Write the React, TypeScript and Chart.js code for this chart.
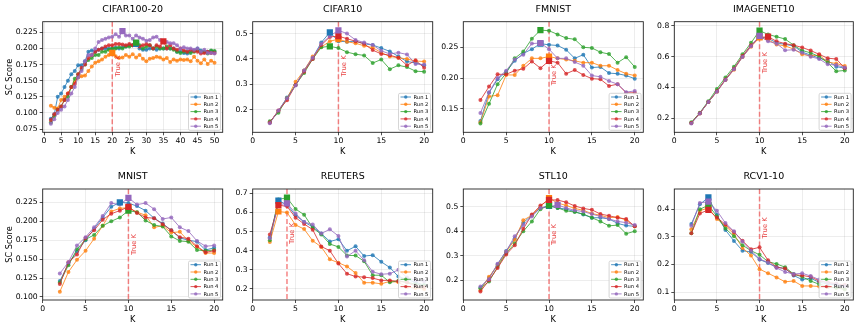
import React, { useEffect, useRef } from 'react';
import { Chart, registerables } from 'chart.js';

Chart.register(...registerables);

const W = 859;
const H = 330;

// ---------------- data ----------------
const RUN_LABELS = ['Run 1', 'Run 2', 'Run 3', 'Run 4', 'Run 5'];
const RUN_COLORS = ['#1f77b4', '#ff7f0e', '#2ca02c', '#d62728', '#9467bd'];

const kShort = [2, 3, 4, 5, 6, 7, 8, 9, 10, 11, 12, 13, 14, 15, 16, 17, 18, 19, 20];
const kLong = [2, 3, 4, 5, 6, 7, 8, 9, 10, 11, 12, 13, 14, 15, 16, 17, 18, 19, 20, 21, 22, 23, 24, 25, 26,
  27, 28, 29, 30, 31, 32, 33, 34, 35, 36, 37, 38, 39, 40, 41, 42, 43, 44, 45, 46, 47, 48, 49, 50];

const cifar100Runs = [
  [0.091, 0.098, 0.125, 0.130, 0.140, 0.150, 0.160, 0.165, 0.174, 0.174, 0.180, 0.195, 0.197, 0.195, 0.198, 0.200, 0.200, 0.200, 0.200, 0.201, 0.200, 0.202, 0.203, 0.205, 0.205, 0.207, 0.200, 0.198, 0.198, 0.200, 0.200, 0.198, 0.200, 0.200, 0.200, 0.200, 0.200, 0.195, 0.195, 0.193, 0.192, 0.195, 0.197, 0.200, 0.197, 0.195, 0.195, 0.196, 0.195],
  [0.111, 0.108, 0.107, 0.120, 0.125, 0.130, 0.140, 0.148, 0.155, 0.157, 0.158, 0.165, 0.172, 0.178, 0.180, 0.183, 0.187, 0.190, 0.193, 0.188, 0.185, 0.186, 0.190, 0.187, 0.191, 0.186, 0.190, 0.184, 0.180, 0.184, 0.185, 0.187, 0.186, 0.183, 0.185, 0.179, 0.183, 0.181, 0.183, 0.182, 0.183, 0.180, 0.187, 0.181, 0.177, 0.183, 0.176, 0.181, 0.178],
  [0.085, 0.095, 0.105, 0.110, 0.120, 0.125, 0.140, 0.153, 0.160, 0.168, 0.175, 0.182, 0.185, 0.190, 0.190, 0.195, 0.195, 0.198, 0.200, 0.200, 0.202, 0.200, 0.203, 0.203, 0.205, 0.209, 0.205, 0.200, 0.203, 0.205, 0.200, 0.203, 0.200, 0.200, 0.203, 0.200, 0.198, 0.195, 0.193, 0.195, 0.195, 0.193, 0.195, 0.197, 0.195, 0.195, 0.192, 0.197, 0.196],
  [0.089, 0.098, 0.105, 0.110, 0.120, 0.130, 0.140, 0.145, 0.160, 0.170, 0.175, 0.185, 0.190, 0.195, 0.198, 0.200, 0.203, 0.205, 0.205, 0.207, 0.207, 0.206, 0.205, 0.207, 0.205, 0.205, 0.203, 0.205, 0.207, 0.205, 0.200, 0.205, 0.203, 0.211, 0.200, 0.205, 0.200, 0.198, 0.200, 0.197, 0.195, 0.198, 0.196, 0.195, 0.192, 0.193, 0.195, 0.193, 0.193],
  [0.083, 0.090, 0.100, 0.105, 0.110, 0.120, 0.130, 0.140, 0.155, 0.165, 0.180, 0.190, 0.190, 0.200, 0.210, 0.213, 0.215, 0.217, 0.218, 0.222, 0.218, 0.227, 0.220, 0.220, 0.215, 0.220, 0.217, 0.215, 0.212, 0.213, 0.217, 0.218, 0.213, 0.210, 0.210, 0.208, 0.208, 0.205, 0.200, 0.202, 0.200, 0.200, 0.198, 0.200, 0.195, 0.198, 0.193, 0.193, 0.192],
];

const cifar10Runs = [
  [0.150, 0.195, 0.248, 0.297, 0.355, 0.405, 0.465, 0.505, 0.470, 0.468, 0.470, 0.460, 0.455, 0.443, 0.430, 0.410, 0.390, 0.385, 0.375],
  [0.150, 0.195, 0.245, 0.310, 0.355, 0.410, 0.447, 0.470, 0.478, 0.468, 0.462, 0.452, 0.445, 0.425, 0.410, 0.405, 0.400, 0.392, 0.390],
  [0.155, 0.188, 0.245, 0.297, 0.345, 0.400, 0.446, 0.450, 0.443, 0.427, 0.419, 0.414, 0.384, 0.398, 0.360, 0.375, 0.368, 0.352, 0.350],
  [0.150, 0.197, 0.237, 0.297, 0.350, 0.400, 0.455, 0.487, 0.490, 0.480, 0.470, 0.460, 0.435, 0.420, 0.415, 0.405, 0.375, 0.395, 0.365],
  [0.147, 0.197, 0.245, 0.295, 0.355, 0.405, 0.460, 0.490, 0.513, 0.500, 0.475, 0.465, 0.455, 0.432, 0.420, 0.425, 0.418, 0.380, 0.378],
];

const fmnistRuns = [
  [0.130, 0.176, 0.198, 0.210, 0.228, 0.240, 0.247, 0.256, 0.254, 0.253, 0.246, 0.232, 0.238, 0.217, 0.218, 0.208, 0.207, 0.204, 0.199],
  [0.128, 0.170, 0.172, 0.205, 0.205, 0.220, 0.232, 0.232, 0.235, 0.232, 0.230, 0.228, 0.225, 0.225, 0.220, 0.220, 0.213, 0.207, 0.204],
  [0.126, 0.158, 0.190, 0.208, 0.232, 0.243, 0.264, 0.278, 0.277, 0.271, 0.265, 0.263, 0.250, 0.249, 0.242, 0.239, 0.225, 0.234, 0.218],
  [0.164, 0.186, 0.206, 0.206, 0.212, 0.215, 0.227, 0.216, 0.228, 0.225, 0.207, 0.213, 0.205, 0.199, 0.198, 0.187, 0.190, 0.176, 0.176],
  [0.143, 0.177, 0.200, 0.212, 0.230, 0.238, 0.256, 0.257, 0.247, 0.232, 0.232, 0.226, 0.220, 0.204, 0.202, 0.195, 0.190, 0.177, 0.179],
];

const imagenetRuns = [
  [0.168, 0.232, 0.305, 0.375, 0.450, 0.520, 0.600, 0.670, 0.730, 0.720, 0.690, 0.680, 0.670, 0.630, 0.610, 0.590, 0.575, 0.535, 0.525],
  [0.168, 0.230, 0.305, 0.372, 0.448, 0.515, 0.598, 0.665, 0.725, 0.710, 0.680, 0.670, 0.650, 0.615, 0.605, 0.610, 0.565, 0.555, 0.540],
  [0.172, 0.235, 0.310, 0.390, 0.465, 0.535, 0.615, 0.690, 0.770, 0.745, 0.730, 0.715, 0.675, 0.640, 0.625, 0.600, 0.560, 0.505, 0.510],
  [0.168, 0.232, 0.305, 0.375, 0.452, 0.522, 0.605, 0.675, 0.725, 0.730, 0.700, 0.685, 0.675, 0.660, 0.640, 0.615, 0.590, 0.585, 0.525],
  [0.165, 0.230, 0.305, 0.372, 0.448, 0.518, 0.598, 0.668, 0.735, 0.700, 0.685, 0.642, 0.645, 0.625, 0.600, 0.585, 0.550, 0.545, 0.530],
];

const mnistRuns = [
  [0.121, 0.144, 0.160, 0.175, 0.190, 0.205, 0.219, 0.225, 0.224, 0.220, 0.214, 0.204, 0.197, 0.188, 0.178, 0.175, 0.173, 0.162, 0.165],
  [0.107, 0.133, 0.149, 0.161, 0.177, 0.194, 0.213, 0.217, 0.218, 0.212, 0.208, 0.192, 0.194, 0.185, 0.186, 0.174, 0.166, 0.158, 0.158],
  [0.119, 0.142, 0.163, 0.176, 0.182, 0.194, 0.200, 0.205, 0.214, 0.212, 0.201, 0.195, 0.193, 0.180, 0.174, 0.173, 0.162, 0.161, 0.162],
  [0.117, 0.146, 0.156, 0.178, 0.188, 0.202, 0.210, 0.214, 0.219, 0.211, 0.205, 0.204, 0.196, 0.188, 0.179, 0.177, 0.167, 0.159, 0.161],
  [0.131, 0.146, 0.168, 0.179, 0.192, 0.207, 0.224, 0.222, 0.231, 0.222, 0.224, 0.216, 0.203, 0.205, 0.192, 0.187, 0.174, 0.167, 0.168],
];

const reutersRuns = [
  [0.470, 0.662, 0.640, 0.585, 0.550, 0.525, 0.490, 0.448, 0.460, 0.400, 0.423, 0.372, 0.377, 0.342, 0.312, 0.265, 0.250, 0.235, 0.220],
  [0.445, 0.605, 0.600, 0.535, 0.513, 0.452, 0.420, 0.355, 0.337, 0.318, 0.283, 0.233, 0.233, 0.227, 0.240, 0.235, 0.210, 0.205, 0.200],
  [0.455, 0.668, 0.677, 0.618, 0.588, 0.520, 0.485, 0.435, 0.420, 0.375, 0.375, 0.345, 0.272, 0.272, 0.235, 0.243, 0.235, 0.225, 0.220],
  [0.485, 0.638, 0.632, 0.573, 0.540, 0.510, 0.422, 0.400, 0.333, 0.280, 0.265, 0.262, 0.257, 0.245, 0.245, 0.240, 0.235, 0.215, 0.210],
  [0.465, 0.640, 0.648, 0.595, 0.550, 0.537, 0.490, 0.512, 0.477, 0.370, 0.400, 0.350, 0.290, 0.277, 0.280, 0.300, 0.260, 0.245, 0.240],
];

const stl10Runs = [
  [0.170, 0.210, 0.265, 0.320, 0.370, 0.435, 0.465, 0.495, 0.503, 0.495, 0.490, 0.480, 0.468, 0.455, 0.455, 0.450, 0.432, 0.423, 0.420],
  [0.160, 0.215, 0.260, 0.315, 0.365, 0.445, 0.465, 0.500, 0.535, 0.515, 0.505, 0.493, 0.485, 0.472, 0.465, 0.455, 0.458, 0.445, 0.420],
  [0.168, 0.195, 0.255, 0.310, 0.350, 0.400, 0.440, 0.490, 0.505, 0.495, 0.483, 0.478, 0.470, 0.455, 0.440, 0.422, 0.425, 0.390, 0.400],
  [0.155, 0.200, 0.250, 0.305, 0.343, 0.410, 0.468, 0.505, 0.528, 0.527, 0.518, 0.503, 0.493, 0.487, 0.470, 0.463, 0.455, 0.450, 0.420],
  [0.175, 0.205, 0.268, 0.318, 0.380, 0.425, 0.460, 0.495, 0.500, 0.507, 0.495, 0.485, 0.480, 0.470, 0.460, 0.450, 0.440, 0.435, 0.425],
];

const rcv1Runs = [
  [0.347, 0.418, 0.443, 0.380, 0.325, 0.285, 0.250, 0.245, 0.218, 0.205, 0.190, 0.185, 0.160, 0.145, 0.150, 0.135, 0.130, 0.125, 0.120],
  [0.328, 0.395, 0.405, 0.365, 0.340, 0.310, 0.260, 0.232, 0.183, 0.168, 0.153, 0.137, 0.140, 0.122, 0.122, 0.120, 0.118, 0.115, 0.110],
  [0.313, 0.400, 0.415, 0.375, 0.330, 0.302, 0.270, 0.250, 0.235, 0.210, 0.202, 0.190, 0.165, 0.155, 0.140, 0.128, 0.120, 0.115, 0.110],
  [0.313, 0.385, 0.398, 0.370, 0.345, 0.318, 0.286, 0.255, 0.262, 0.215, 0.190, 0.185, 0.163, 0.160, 0.155, 0.140, 0.135, 0.130, 0.125],
  [0.340, 0.423, 0.428, 0.395, 0.350, 0.320, 0.283, 0.250, 0.220, 0.207, 0.187, 0.173, 0.165, 0.168, 0.158, 0.145, 0.132, 0.128, 0.122],
];

const TITLES = ['CIFAR100-20', 'CIFAR10', 'FMNIST', 'IMAGENET10', 'MNIST', 'REUTERS', 'STL10', 'RCV1-10'];
const TRUE_K = [20, 10, 10, 10, 10, 4, 10, 10];
const X_TICKS_LONG = [0, 5, 10, 15, 20, 25, 30, 35, 40, 45, 50];
const X_TICKS_SHORT = [0, 5, 10, 15, 20];
const Y_TICKS = [
  [0.075, 0.1, 0.125, 0.15, 0.175, 0.2, 0.225],
  [0.2, 0.3, 0.4, 0.5],
  [0.15, 0.2, 0.25],
  [0.2, 0.4, 0.6, 0.8],
  [0.1, 0.125, 0.15, 0.175, 0.2, 0.225],
  [0.2, 0.3, 0.4, 0.5, 0.6, 0.7],
  [0.2, 0.3, 0.4, 0.5],
  [0.1, 0.2, 0.3, 0.4],
];
const Y_DECIMALS = [3, 1, 2, 1, 3, 1, 1, 1];

const PANELS = [
  { k: kLong, runs: cifar100Runs, xTicks: X_TICKS_LONG },
  { k: kShort, runs: cifar10Runs, xTicks: X_TICKS_SHORT },
  { k: kShort, runs: fmnistRuns, xTicks: X_TICKS_SHORT },
  { k: kShort, runs: imagenetRuns, xTicks: X_TICKS_SHORT },
  { k: kShort, runs: mnistRuns, xTicks: X_TICKS_SHORT },
  { k: kShort, runs: reutersRuns, xTicks: X_TICKS_SHORT },
  { k: kShort, runs: stl10Runs, xTicks: X_TICKS_SHORT },
  { k: kShort, runs: rcv1Runs, xTicks: X_TICKS_SHORT },
];

// ---------------- layout (pixels / axis ranges) ----------------
const LAYOUT = [
  { l: 42.7, r: 222.7, t: 21.7, b: 132.3, xMin: -0.4, xMax: 52.4, yMin: 0.0699, yMax: 0.2415, textFrac: 0.40, yLabel: true },
  { l: 252.7, r: 432.7, t: 21.7, b: 132.3, xMin: 0, xMax: 21, yMin: 0.111, yMax: 0.547, textFrac: 0.40, yLabel: false },
  { l: 463.3, r: 643.3, t: 21.7, b: 132.3, xMin: 0, xMax: 21, yMin: 0.1116, yMax: 0.2917, textFrac: 0.48, yLabel: false },
  { l: 674.3, r: 853.3, t: 21.7, b: 132.3, xMin: 0, xMax: 21, yMin: 0.107, yMax: 0.828, textFrac: 0.37, yLabel: false },
  { l: 42.7, r: 222.7, t: 189, b: 300, xMin: 0, xMax: 21, yMin: 0.096, yMax: 0.2426, textFrac: 0.50, yLabel: true },
  { l: 252.7, r: 432.7, t: 189, b: 300, xMin: 0, xMax: 21, yMin: 0.1425, yMax: 0.7226, textFrac: 0.40, yLabel: false },
  { l: 463.3, r: 643.3, t: 189, b: 300, xMin: 0, xMax: 21, yMin: 0.12, yMax: 0.572, textFrac: 0.41, yLabel: false },
  { l: 674.3, r: 853.3, t: 189, b: 300, xMin: 0, xMax: 21, yMin: 0.071, yMax: 0.4737, textFrac: 0.35, yLabel: false },
];

const FONT = '"DejaVu Sans", "Liberation Sans", sans-serif';

function hexA(hex: string, a: number) {
  const n = parseInt(hex.slice(1), 16);
  return `rgba(${(n >> 16) & 255},${(n >> 8) & 255},${n & 255},${a})`;
}

function makeConfig(idx: number): any {
  const p = PANELS[idx];
  const L = LAYOUT[idx];
  const trueK = TRUE_K[idx];
  const title = TITLES[idx];
  const dec = Y_DECIMALS[idx];

  const squares: any[] = [];
  const lines: any[] = [];
  for (let i = 4; i >= 0; i--) {
    const run = p.runs[i];
    const col = RUN_COLORS[i];
    let bi = 0;
    run.forEach((v, j) => { if (v > run[bi]) bi = j; });
    squares.push({
      label: RUN_LABELS[i] + ' best',
      data: [{ x: p.k[bi], y: run[bi] }],
      showLine: false,
      pointStyle: 'rect',
      pointRadius: 4.4,
      pointBorderWidth: 0,
      backgroundColor: col,
      borderColor: col,
    });
    lines.push({
      label: RUN_LABELS[i],
      data: p.k.map((x, j) => ({ x, y: run[j] })),
      borderColor: hexA(col, 0.8),
      backgroundColor: hexA(col, 0.8),
      borderWidth: 1,
      pointRadius: 2,
      pointBorderWidth: 0,
      pointStyle: 'circle',
      tension: 0,
    });
  }

  const deco = {
    id: 'deco' + idx,
    beforeDatasetsDraw(chart: any) {
      const { ctx, chartArea: a, scales } = chart;
      const x = scales.x.getPixelForValue(trueK);
      ctx.save();
      ctx.beginPath();
      ctx.rect(a.left, a.top, a.right - a.left, a.bottom - a.top);
      ctx.clip();
      ctx.strokeStyle = 'rgba(238,50,50,0.6)';
      ctx.lineWidth = 1.5;
      ctx.setLineDash([5, 2.5]);
      ctx.beginPath();
      ctx.moveTo(x, a.top);
      ctx.lineTo(x, a.bottom);
      ctx.stroke();
      ctx.restore();
    },
    afterDatasetsDraw(chart: any) {
      const { ctx, chartArea: a, scales } = chart;
      const x = scales.x.getPixelForValue(trueK);
      // True K text
      ctx.save();
      ctx.translate(x + 5.5, a.top + (a.bottom - a.top) * L.textFrac);
      ctx.rotate(-Math.PI / 2);
      ctx.font = `6.8px ${FONT}`;
      ctx.fillStyle = 'rgba(228,30,30,0.85)';
      ctx.textAlign = 'center';
      ctx.textBaseline = 'middle';
      ctx.fillText('True K', 0, 0);
      ctx.restore();

      // frame
      ctx.save();
      ctx.strokeStyle = '#222';
      ctx.lineWidth = 0.9;
      ctx.strokeRect(a.left, a.top, a.right - a.left, a.bottom - a.top);
      ctx.restore();

      // legend
      const lw = 32, lh = 37;
      const lx = a.right - 2.2 - lw;
      const ly = a.bottom - 2 - lh;
      ctx.save();
      ctx.beginPath();
      if (ctx.roundRect) ctx.roundRect(lx, ly, lw, lh, 1.5); else ctx.rect(lx, ly, lw, lh);
      ctx.fillStyle = 'rgba(255,255,255,0.85)';
      ctx.fill();
      ctx.strokeStyle = '#cccccc';
      ctx.lineWidth = 0.8;
      ctx.stroke();
      for (let i = 0; i < 5; i++) {
        const cy = ly + 3.7 + i * 7.3;
        const col = RUN_COLORS[i];
        ctx.strokeStyle = hexA(col, 0.8);
        ctx.lineWidth = 1;
        ctx.beginPath();
        ctx.moveTo(lx + 2, cy);
        ctx.lineTo(lx + 12.5, cy);
        ctx.stroke();
        ctx.fillStyle = hexA(col, 0.8);
        ctx.beginPath();
        ctx.arc(lx + 7.25, cy, 1.7, 0, Math.PI * 2);
        ctx.fill();
        ctx.fillStyle = '#000';
        ctx.font = `5.2px ${FONT}`;
        ctx.textAlign = 'left';
        ctx.textBaseline = 'middle';
        ctx.fillText(RUN_LABELS[i], lx + 15, cy + 0.3);
      }
      ctx.restore();

      // title and axis labels
      ctx.save();
      ctx.fillStyle = '#000';
      ctx.textAlign = 'center';
      ctx.textBaseline = 'middle';
      ctx.font = `9.5px ${FONT}`;
      ctx.fillText(title, (a.left + a.right) / 2, a.top - 12);
      ctx.font = `8.2px ${FONT}`;
      ctx.fillText('K', (a.left + a.right) / 2, a.bottom + 19.4);
      if (L.yLabel) {
        ctx.translate(10, (a.top + a.bottom) / 2);
        ctx.rotate(-Math.PI / 2);
        ctx.fillText('SC Score', 0, 0);
      }
      ctx.restore();
    },
  };

  const tickFont = { family: FONT, size: 7.7 };
  const grid = {
    color: 'rgba(0,0,0,0.09)',
    lineWidth: 0.8,
    tickLength: 3,
    tickColor: '#222',
    tickWidth: 0.8,
  };

  return {
    type: 'line',
    data: { datasets: [...squares, ...lines] },
    options: {
      responsive: false,
      animation: false,
      devicePixelRatio: 1,
      events: [],
      layout: { padding: { left: 0, top: L.t, right: W - L.r, bottom: 0 } },
      plugins: { legend: { display: false }, tooltip: { enabled: false }, title: { display: false } },
      scales: {
        x: {
          type: 'linear',
          min: L.xMin,
          max: L.xMax,
          afterBuildTicks: (s: any) => { s.ticks = p.xTicks.map((v) => ({ value: v })); },
          afterFit: (s: any) => { s.height = H - L.b; },
          ticks: {
            font: tickFont, color: '#000', padding: 1.5, maxRotation: 0, minRotation: 0, autoSkip: false,
            callback: (v: any) => String(v),
          },
          grid,
          border: { display: false },
        },
        y: {
          type: 'linear',
          min: L.yMin,
          max: L.yMax,
          afterBuildTicks: (s: any) => { s.ticks = Y_TICKS[idx].map((v) => ({ value: v })); },
          afterFit: (s: any) => { s.width = L.l; },
          ticks: {
            font: tickFont, color: '#000', padding: 2, autoSkip: false,
            callback: (v: any) => Number(v).toFixed(dec),
          },
          grid,
          border: { display: false },
        },
      },
    },
    plugins: [deco],
  };
}

function Panel({ idx }: { idx: number }) {
  const ref = useRef<HTMLCanvasElement>(null);
  useEffect(() => {
    if (!ref.current) return;
    const chart = new Chart(ref.current, makeConfig(idx));
    return () => chart.destroy();
  }, [idx]);
  return (
    <canvas
      ref={ref}
      width={W}
      height={H}
      style={{ position: 'absolute', left: 0, top: 0, width: W, height: H }}
    />
  );
}

export default function App() {
  useEffect(() => {
    document.body.style.margin = '0';
    document.body.style.background = '#fff';
  }, []);
  return (
    <div style={{ position: 'relative', width: W, height: H, background: '#fff', overflow: 'hidden' }}>
      {PANELS.map((_, i) => (
        <Panel key={i} idx={i} />
      ))}
    </div>
  );
}
